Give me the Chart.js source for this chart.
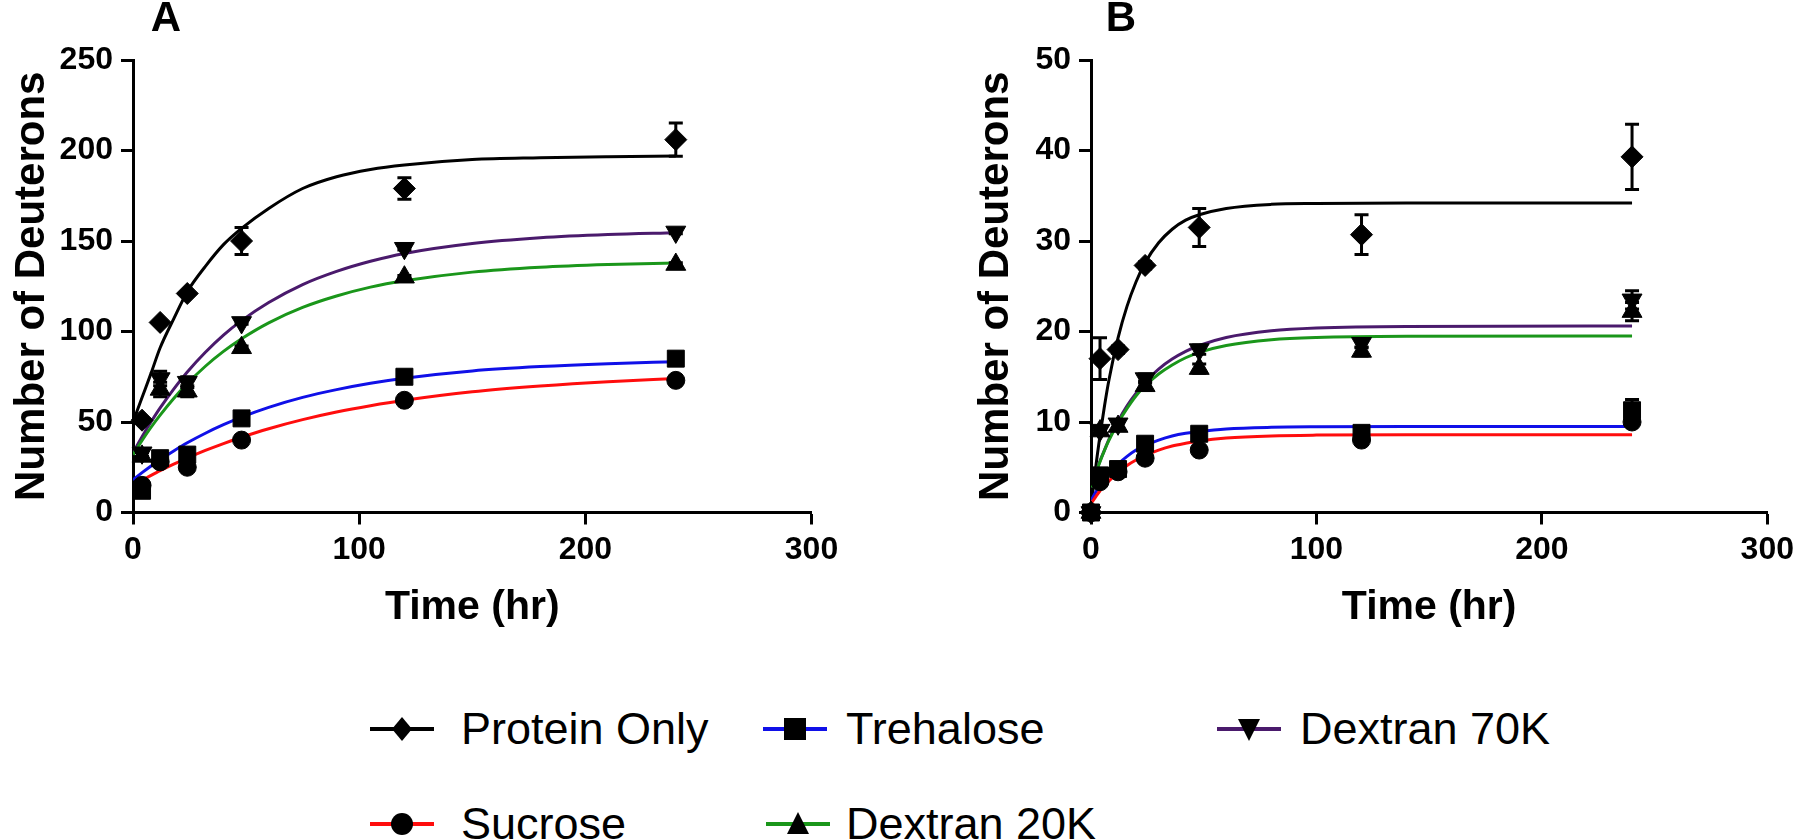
<!DOCTYPE html>
<html>
<head>
<meta charset="utf-8">
<script src="https://cdn.jsdelivr.net/npm/chart.js@4.4.1/dist/chart.umd.min.js"></script>
<style>
  html, body { margin: 0; padding: 0; background: #fff; }
  body { width: 1800px; height: 840px; position: relative; overflow: hidden; font-family: "Liberation Sans", Arial, sans-serif; }
  canvas { position: absolute; top: 0; }
  .panel { position: absolute; width: 60px; text-align: center; font-weight: bold; font-size: 42px; line-height: 42px; top: -4px; }
  .leg { position: absolute; height: 50px; line-height: 50px; font-size: 45px; color: #000; white-space: nowrap; }
  .legsvg { position: absolute; }
</style>
</head>
<body>
<canvas id="chartA" width="880" height="640" style="left:0px"></canvas>
<canvas id="chartB" width="842" height="640" style="left:958px"></canvas>
<div class="panel" style="left:136px">A</div>
<div class="panel" style="left:1091px">B</div>
<div id="legend"></div>
<script>
// ---------------- DATA ----------------
const seriesNames = ["Protein Only", "Trehalose", "Dextran 70K", "Sucrose", "Dextran 20K"];
const xTicks = [0, 100, 200, 300];
const yTicksA = [0, 50, 100, 150, 200, 250];
const yTicksB = [0, 10, 20, 30, 40, 50];

// Panel A measured points (time in hr)
const timesA = [4, 12, 24, 48, 120, 240];
const A_protein    = [51, 105, 121, 150, 179, 206];
const A_proteinErr = [1.5, 1, 1, 7.4, 6, 9.2];
const A_trehalose  = [12, 30, 32, 52, 75, 85];
const A_trehaloseErr = [1, 1, 1, 1, 1, 1];
const A_sucrose    = [15, 28, 25, 40, 62, 73];
const A_sucroseErr = [1, 1, 1, 1, 1, 1];
const A_dex70      = [33, 74, 72, 105, 146, 155];
const A_dex70Err   = [2, 4, 3, 1, 1, 1];
const A_dex20      = [31, 68, 67, 91, 130, 137];
const A_dex20Err   = [2, 4, 3, 1, 1, 1];

// Panel A fitted curves
const fitTimesA = [0, 4, 8, 12, 18, 24, 32, 40, 48, 60, 75, 90, 105, 120, 150, 180, 210, 240];
const A_fitProtein   = [50, 63.5, 77, 91, 107, 122, 136, 148, 157, 168, 179, 185.5, 189.5, 192, 195, 196, 196.6, 197];
const A_fitTrehalose = [18, 22, 25.7, 29.2, 34, 38.5, 43.8, 48.5, 52.7, 58.1, 63.6, 67.9, 71.4, 74.2, 78.2, 80.6, 82.2, 83.3];
const A_fitSucrose   = [15, 17.8, 20.5, 23.1, 26.7, 30.1, 34.3, 38.1, 41.6, 46.3, 51.3, 55.5, 59, 62, 66.7, 69.9, 72.3, 74];
const A_fitDex70     = [33, 41.9, 50.1, 57.8, 68.2, 77.6, 88.5, 98, 106, 116, 125.9, 133.2, 138.8, 143.1, 148.6, 151.8, 153.6, 154.6];
const A_fitDex20     = [32, 39.8, 47.1, 53.8, 63, 71.2, 80.8, 89, 96, 104.8, 113.3, 119.6, 124.5, 128, 132.8, 135.5, 137, 137.9];

// Panel B measured points
const timesB = [0, 4, 12, 24, 48, 120, 240];
const B_protein    = [0, 17, 18, 27.3, 31.5, 30.7, 39.3];
const B_proteinErr = [0, 2.3, 0.4, 0.4, 2.1, 2.2, 3.6];
const B_trehalose  = [0, 4.1, 4.8, 7.6, 8.7, 8.8, 11.3];
const B_trehaloseErr = [0, 0.3, 0.3, 0.4, 0.4, 0.4, 1.2];
const B_sucrose    = [0, 3.4, 4.5, 6.0, 6.9, 8.0, 10.0];
const B_sucroseErr = [0, 0.3, 0.3, 0.4, 0.4, 0.4, 0.4];
const B_dex70      = [0, 9.1, 9.8, 14.8, 18.0, 18.7, 23.5];
const B_dex70Err   = [0, 0.4, 0.4, 0.5, 0.5, 0.5, 1.0];
const B_dex20      = [0, 9.0, 9.5, 14.0, 15.9, 17.8, 22.2];
const B_dex20Err   = [0, 0.4, 0.4, 0.5, 0.5, 0.5, 1.0];

// Panel B fitted curves
const fitTimesB = [0, 2, 4, 6, 8, 12, 16, 20, 24, 30, 36, 42, 48, 60, 80, 100, 140, 240];
const B_fitProtein   = [0.5, 4.8, 8.5, 11.8, 14.7, 19.3, 22.8, 25.5, 27.6, 29.8, 31.3, 32.3, 32.9, 33.6, 34.05, 34.15, 34.2, 34.2];
const B_fitTrehalose = [1.3, 2.2, 3.0, 3.7, 4.3, 5.35, 6.2, 6.9, 7.4, 8.0, 8.45, 8.75, 8.95, 9.23, 9.41, 9.47, 9.5, 9.5];
const B_fitSucrose   = [1.0, 1.7, 2.4, 3.0, 3.5, 4.4, 5.2, 5.8, 6.3, 6.9, 7.35, 7.65, 7.9, 8.22, 8.46, 8.55, 8.6, 8.6];
const B_fitDex70     = [2.8, 4.3, 5.7, 6.9, 8.1, 10.1, 11.8, 13.2, 14.4, 15.85, 16.95, 17.8, 18.45, 19.33, 20.07, 20.38, 20.56, 20.6];
const B_fitDex20     = [2.8, 4.3, 5.6, 6.9, 8.0, 9.9, 11.5, 12.9, 14.0, 15.3, 16.3, 17.1, 17.7, 18.46, 19.09, 19.34, 19.47, 19.5];

// ---------------- STYLE ----------------
const colors = { protein: "#000000", trehalose: "#1010e8", sucrose: "#ff0d0d", dex70: "#4a1a6c", dex20: "#1a961a" };
const FONT = '"Liberation Sans", Arial, sans-serif';

function pts(xs, ys) { return xs.map((x, i) => ({ x: x, y: ys[i] })); }

function curve(xs, ys, color) {
  return { data: pts(xs, ys), showLine: true, borderColor: color, borderWidth: 3, pointRadius: 0,
           cubicInterpolationMode: 'monotone', fill: false, order: 3 };
}
function marks(xs, ys, errs, style, radius, rotation) {
  return { data: pts(xs, ys), errors: errs, showLine: false, pointStyle: style, pointRadius: radius, clip: false,
           pointRotation: rotation || 0, backgroundColor: "#000", borderColor: "#000", borderWidth: 1, order: 1 };
}

const errorBars = {
  id: 'errorBars',
  afterDatasetsDraw(chart) {
    const ctx = chart.ctx, xs = chart.scales.x, ys = chart.scales.y;
    ctx.save();
    ctx.strokeStyle = "#000"; ctx.lineWidth = 3;
    chart.data.datasets.forEach(ds => {
      if (!ds.errors) return;
      ds.data.forEach((p, j) => {
        const e = ds.errors[j];
        if (!e) return;
        const x = xs.getPixelForValue(p.x);
        const y1 = ys.getPixelForValue(p.y + e), y2 = ys.getPixelForValue(p.y - e);
        ctx.beginPath();
        ctx.moveTo(x, y1); ctx.lineTo(x, y2);
        ctx.moveTo(x - 7, y1); ctx.lineTo(x + 7, y1);
        ctx.moveTo(x - 7, y2); ctx.lineTo(x + 7, y2);
        ctx.stroke();
      });
    });
    ctx.restore();
  }
};

function makeChart(id, datasets, yMax, yStep, yTickList, padRight, yTitlePad) {
  return new Chart(document.getElementById(id), {
    type: 'scatter',
    data: { datasets: datasets },
    plugins: [errorBars],
    options: {
      responsive: false, animation: false, devicePixelRatio: 1,
      layout: { padding: { top: 60, right: padRight, left: 0, bottom: 0 } },
      plugins: { legend: { display: false }, tooltip: { enabled: false } },
      scales: {
        x: {
          type: 'linear', min: xTicks[0], max: xTicks[xTicks.length - 1],
          afterBuildTicks: s => { s.ticks = xTicks.map(v => ({ value: v })); },
          afterFit: s => { s.height = 127.5; },
          border: { display: true, color: "#000", width: 3 },
          grid: { display: true, drawOnChartArea: false, drawTicks: true, tickLength: 12, tickWidth: 3, tickColor: "#000" },
          ticks: { color: "#000", padding: 6, font: { family: FONT, size: 32, weight: 'bold' }, maxRotation: 0 },
          title: { display: true, text: "Time (hr)", color: "#000", padding: { top: 0, bottom: 8 },
                   font: { family: FONT, size: 41, weight: 'bold' } }
        },
        y: {
          type: 'linear', min: 0, max: yMax,
          afterBuildTicks: s => { s.ticks = yTickList.map(v => ({ value: v })); },
          afterFit: s => { s.width = 133; },
          border: { display: true, color: "#000", width: 3 },
          grid: { display: true, drawOnChartArea: false, drawTicks: true, tickLength: 12, tickWidth: 3, tickColor: "#000" },
          ticks: { color: "#000", padding: 8, font: { family: FONT, size: 32, weight: 'bold' } },
          title: { display: true, text: "Number of Deuterons", color: "#000", padding: { top: yTitlePad, bottom: 0 },
                   font: { family: FONT, size: 42, weight: 'bold' } }
        }
      }
    }
  });
}

makeChart('chartA', [
  curve(fitTimesA, A_fitSucrose, colors.sucrose),
  curve(fitTimesA, A_fitTrehalose, colors.trehalose),
  curve(fitTimesA, A_fitDex20, colors.dex20),
  curve(fitTimesA, A_fitDex70, colors.dex70),
  curve(fitTimesA, A_fitProtein, colors.protein),
  marks(timesA, A_sucrose, A_sucroseErr, 'circle', 9),
  marks(timesA, A_trehalose, A_trehaloseErr, 'rect', 12),
  marks(timesA, A_dex20, A_dex20Err, 'triangle', 11.5),
  marks(timesA, A_dex70, A_dex70Err, 'triangle', 11.5, 180),
  marks(timesA, A_protein, A_proteinErr, 'rectRot', 11)
], 250, 50, yTicksA, 68.5, 7);

makeChart('chartB', [
  curve(fitTimesB, B_fitSucrose, colors.sucrose),
  curve(fitTimesB, B_fitTrehalose, colors.trehalose),
  curve(fitTimesB, B_fitDex20, colors.dex20),
  curve(fitTimesB, B_fitDex70, colors.dex70),
  curve(fitTimesB, B_fitProtein, colors.protein),
  marks(timesB, B_sucrose, B_sucroseErr, 'circle', 9),
  marks(timesB, B_trehalose, B_trehaloseErr, 'rect', 12),
  marks(timesB, B_dex20, B_dex20Err, 'triangle', 11.5),
  marks(timesB, B_dex70, B_dex70Err, 'triangle', 11.5, 180),
  marks(timesB, B_protein, B_proteinErr, 'rectRot', 11)
], 50, 10, yTicksB, 28, 13);

// ---------------- LEGEND ----------------
const legendItems = [
  { name: seriesNames[0], color: colors.protein,   shape: 'diamond', lineX: 370, textX: 461, y: 729 },
  { name: seriesNames[1], color: colors.trehalose, shape: 'square',  lineX: 763, textX: 846, y: 729 },
  { name: seriesNames[2], color: colors.dex70,     shape: 'down',    lineX: 1217, textX: 1300, y: 729 },
  { name: seriesNames[3], color: colors.sucrose,   shape: 'circle',  lineX: 370, textX: 461, y: 824 },
  { name: seriesNames[4], color: colors.dex20,     shape: 'up',      lineX: 766, textX: 846, y: 824 }
];
const shapes = {
  diamond: '<polygon points="32,8 42,20 32,32 22,20" fill="#000"/>',
  square:  '<rect x="21" y="9" width="22" height="22" fill="#000"/>',
  circle:  '<circle cx="32" cy="20" r="11" fill="#000"/>',
  up:      '<polygon points="32,8 43,30 21,30" fill="#000"/>',
  down:    '<polygon points="21,10 43,10 32,32" fill="#000"/>'
};
const leg = document.getElementById('legend');
legendItems.forEach(it => {
  const svg = document.createElementNS("http://www.w3.org/2000/svg", "svg");
  svg.setAttribute("width", "64"); svg.setAttribute("height", "40");
  svg.setAttribute("class", "legsvg");
  svg.style.left = it.lineX + "px"; svg.style.top = (it.y - 20) + "px";
  svg.innerHTML = '<line x1="0" y1="20" x2="64" y2="20" stroke="' + it.color + '" stroke-width="4"/>' + shapes[it.shape];
  leg.appendChild(svg);
  const d = document.createElement('div');
  d.className = 'leg';
  d.style.left = it.textX + "px"; d.style.top = (it.y - 25) + "px";
  d.textContent = it.name;
  leg.appendChild(d);
});
</script>
</body>
</html>
